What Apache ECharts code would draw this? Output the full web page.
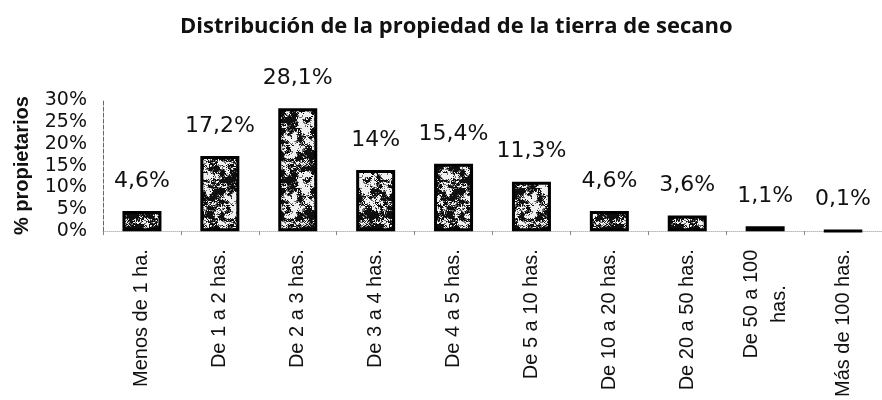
<!DOCTYPE html>
<html>
<head>
<meta charset="utf-8">
<script src="https://cdn.jsdelivr.net/npm/echarts@6/dist/echarts.min.js"></script>
<style>
html,body{margin:0;padding:0;background:#fff;}
#chart{width:882px;height:400px;}
</style>
</head>
<body>
<div id="chart"></div>
<script>
const categories = ["Menos de 1 ha.", "De 1 a 2 has.", "De 2 a 3 has.", "De 3 a 4 has.", "De 4 a 5 has.", "De 5 a 10 has.", "De 10 a 20 has.", "De 20 a 50 has.", "De 50 a 100\nhas.", "Más de 100 has."];
const values = [4.6, 17.2, 28.1, 14, 15.4, 11.3, 4.6, 3.6, 1.1, 0.1];
const valueLabels = ["4,6%", "17,2%", "28,1%", "14%", "15,4%", "11,3%", "4,6%", "3,6%", "1,1%", "0,1%"];
const yTicks = [0, 5, 10, 15, 20, 25, 30];

// speckled texture (deterministic hash)
function makePattern() {
  const S = 60;
  const c = document.createElement('canvas');
  c.width = S; c.height = S;
  const ctx = c.getContext('2d');
  const img = ctx.createImageData(S, S);
  function h(x, y) {
    let n = x * 374761393 + y * 668265263;
    n = (n ^ (n >>> 13)) * 1274126177;
    n = n ^ (n >>> 16);
    return ((n >>> 0) % 1000) / 1000;
  }
  function smooth(x, y, s) {
    const gx = Math.floor(x / s), gy = Math.floor(y / s);
    const fx = (x % s) / s, fy = (y % s) / s;
    const n = S / s;
    const a = h(gx % n, gy % n), b = h((gx + 1) % n, gy % n);
    const c2 = h(gx % n, (gy + 1) % n), d = h((gx + 1) % n, (gy + 1) % n);
    return (a * (1 - fx) + b * fx) * (1 - fy) + (c2 * (1 - fx) + d * fx) * fy;
  }
  for (let y = 0; y < S; y++) {
    for (let x = 0; x < S; x++) {
      const v = 0.45 * smooth(x, y, 6) + 0.3 * smooth(x, y, 3) + 0.25 * h(x, y);
      const g = v > 0.5 ? 15 : (v > 0.44 ? 110 : 240);
      const i = (y * S + x) * 4;
      img.data[i] = g; img.data[i + 1] = g; img.data[i + 2] = g; img.data[i + 3] = 255;
    }
  }
  ctx.putImageData(img, 0, 0);
  return c;
}
const pattern = makePattern();

const labelFont = {fontFamily: 'Liberation Sans, Arial', fontSize: 20, color: '#111', lineHeight: 28};

const chart = echarts.init(document.getElementById('chart'), null, {renderer: 'canvas'});
chart.setOption({
  animation: false,
  backgroundColor: '#fff',
  title: {
    text: 'Distribución de la propiedad de la tierra de secano',
    left: 175,
    top: 11,
    textStyle: {fontFamily: 'Open Sans', fontWeight: 'bold', fontSize: 22, color: '#111'}
  },
  grid: {left: 103, top: 100, width: 782, height: 132, containLabel: false},
  xAxis: {
    type: 'category',
    data: categories,
    axisLine: {show: true, lineStyle: {color: '#bbb', type: 'dotted', width: 1}},
    axisTick: {show: true, length: 4, lineStyle: {color: '#888'}},
    axisLabel: Object.assign({
      rotate: 90,
      interval: 0,
      margin: 18,
      formatter: function (v) {
        if (v.indexOf('\n') >= 0) {
          const parts = v.split('\n');
          return '{c|' + parts[0] + '}\n{c|' + parts[1] + '}';
        }
        return v;
      },
      rich: {
        c: Object.assign({width: 110, align: 'center'}, labelFont)
      }
    }, labelFont)
  },
  yAxis: {
    type: 'value',
    min: yTicks[0],
    max: yTicks[yTicks.length - 1],
    interval: 5,
    name: '% propietarios',
    nameLocation: 'middle',
    nameGap: 71,
    nameRotate: 90,
    nameTextStyle: {fontFamily: 'Liberation Sans, Arial', fontWeight: 'bold', fontSize: 20, color: '#111'},
    axisLine: {show: true, lineStyle: {color: '#666', type: [4, 2], width: 1}},
    axisTick: {show: false},
    splitLine: {show: false},
    axisLabel: {
      margin: 16,
      fontFamily: 'DejaVu Sans',
      fontSize: 19,
      color: '#111',
      formatter: function (v) { return v + '%'; }
    }
  },
  series: [{
    type: 'bar',
    data: values,
    barWidth: 39,
    itemStyle: {
      color: {image: pattern, repeat: 'repeat'},
      borderColor: '#000',
      borderWidth: 3
    },
    label: {
      show: true,
      position: 'top',
      distance: 19,
      fontFamily: 'DejaVu Sans',
      fontSize: 22,
      color: '#111',
      formatter: function (p) { return valueLabels[p.dataIndex]; }
    }
  }]
});
</script>
</body>
</html>
